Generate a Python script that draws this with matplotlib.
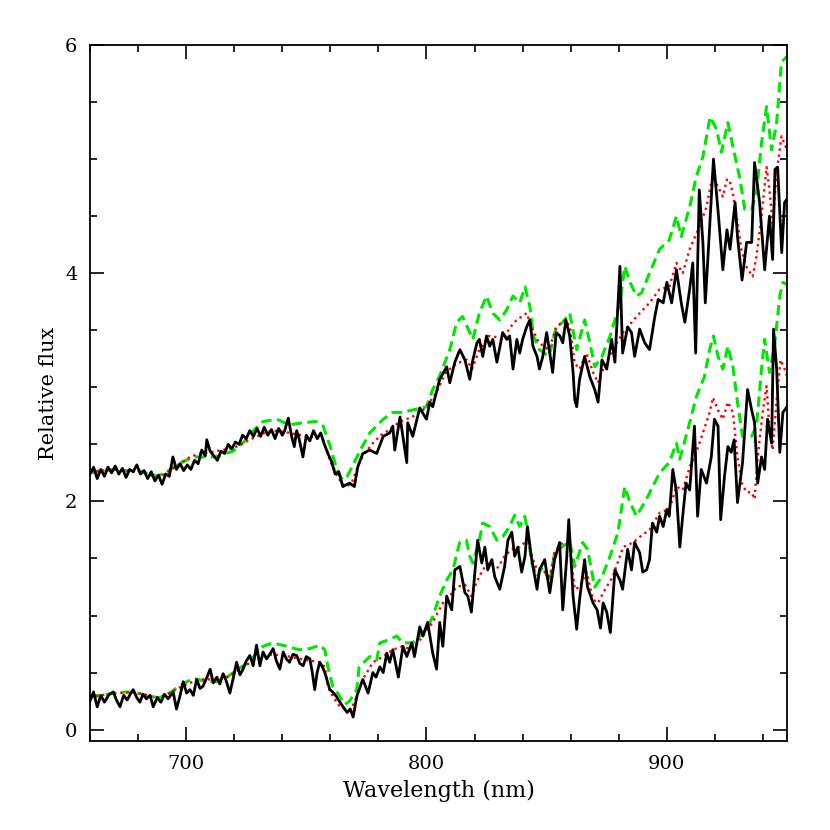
import numpy as np
import matplotlib
matplotlib.use('Agg')
import matplotlib.pyplot as plt
from matplotlib.ticker import MultipleLocator

# (wavelength nm, relative flux)
# upper spectrum: observed (black), model A (red dotted), model B (green dashed)
upper_obs = [
    (660, 2.24), (661.5, 2.30), (663, 2.20), (664.5, 2.28), (666, 2.22), (667.5, 2.30),
    (669, 2.25), (670.5, 2.31), (672, 2.24), (673.5, 2.29), (675, 2.21), (676.5, 2.28),
    (678, 2.26), (679.5, 2.32), (681, 2.24), (682.5, 2.27), (684, 2.20), (685.5, 2.26),
    (687, 2.18), (688.5, 2.23), (690, 2.15), (691.5, 2.24), (693, 2.22), (694.5, 2.39),
    (696, 2.28), (697.5, 2.33), (699, 2.27), (700.5, 2.32), (702, 2.28), (703.5, 2.36),
    (705, 2.33), (706.5, 2.45), (708, 2.40), (708.6, 2.54), (710, 2.44), (711.5, 2.40),
    (713, 2.36), (714.5, 2.44), (716, 2.42), (717.5, 2.50), (719, 2.46), (720.5, 2.52),
    (722, 2.50), (723.5, 2.58), (725, 2.55), (726.5, 2.62), (728, 2.57), (729.5, 2.64),
    (731, 2.57), (732.5, 2.65), (734, 2.58), (735.5, 2.63), (737, 2.55), (738.5, 2.64),
    (740, 2.58), (741, 2.62), (742.5, 2.73), (744, 2.56), (745, 2.48), (746, 2.62),
    (747, 2.55), (748.6, 2.39), (750, 2.58), (751.5, 2.53), (753, 2.62), (754.5, 2.55),
    (756, 2.60), (757.5, 2.50), (759, 2.42), (760.5, 2.35), (762, 2.24), (763.5, 2.26),
    (765.2, 2.13), (768, 2.16), (770, 2.13), (771.4, 2.30), (773.5, 2.42), (776.4, 2.45),
    (779.3, 2.42), (782, 2.57), (784.7, 2.60), (786, 2.66), (786.8, 2.45), (789, 2.74),
    (791.8, 2.34), (792.2, 2.69), (794.3, 2.57), (797.2, 2.82), (800, 2.72), (801.4, 2.87),
    (802.6, 2.83), (805.5, 3.07), (808.4, 3.18), (809.7, 3.04), (811.8, 3.22), (813.9, 3.33),
    (816, 3.24), (818, 3.07), (819.3, 3.24), (821, 3.39), (822, 3.42), (823.4, 3.27),
    (825, 3.45), (826.3, 3.36), (827.6, 3.42), (829.3, 3.22), (831.7, 3.48), (833.4, 3.42),
    (834.6, 3.45), (836, 3.16), (837.6, 3.42), (838.8, 3.30), (840, 3.42), (841.7, 3.53),
    (843, 3.59), (844.3, 3.36), (846, 3.27), (847, 3.16), (848.4, 3.27), (850, 3.48),
    (852.5, 3.13), (854, 3.48), (855.5, 3.45), (856.7, 3.39), (858, 3.59), (859.6, 3.45),
    (861, 3.13), (861.7, 2.89), (862.5, 2.83), (863.7, 3.07), (865.8, 3.27), (868, 3.09),
    (870, 2.98), (871.4, 2.87), (873, 3.24), (875, 3.16), (877, 3.42), (878.4, 3.22),
    (880.5, 4.06), (881.6, 3.30), (883.7, 3.53), (885.3, 3.48), (886.6, 3.27), (888.7, 3.51),
    (890.8, 3.39), (892.8, 3.33), (895, 3.62), (896.4, 3.77), (898.5, 3.74), (900, 3.92),
    (902, 3.74), (904, 4.03), (906, 3.74), (907.5, 3.57), (909.5, 3.86), (910.8, 4.09),
    (912, 3.30), (913.5, 4.73), (915, 4.27), (916, 3.74), (917.3, 4.21), (919.4, 5.00),
    (921.5, 4.50), (923.3, 4.03), (925, 4.38), (926.3, 4.21), (928.4, 4.62), (929.4, 4.32),
    (931.3, 3.94), (933.2, 4.27), (935.3, 4.27), (936.5, 4.97), (938.6, 4.62), (940.7, 4.03),
    (942.7, 4.50), (944, 4.12), (945, 4.91), (946.1, 4.93), (947.8, 4.18), (949, 4.62),
    (950, 4.65),
]

upper_red = [
    (660, 2.26), (665, 2.27), (670, 2.28), (675, 2.27), (680, 2.26), (685, 2.23),
    (688, 2.21), (692, 2.25), (696, 2.31), (701.6, 2.39), (706, 2.42), (710, 2.43),
    (715, 2.45), (720, 2.47), (726.5, 2.54), (733.6, 2.61), (738, 2.62), (743, 2.60),
    (748, 2.58), (754, 2.56), (757, 2.54), (760, 2.35), (763, 2.22), (765, 2.15),
    (767, 2.13), (769, 2.17), (771, 2.28), (772, 2.34), (775, 2.44), (777.7, 2.51),
    (781, 2.58), (784.7, 2.63), (789, 2.70), (794, 2.74), (798.5, 2.80), (801, 2.86),
    (804, 2.95), (808, 3.13), (812.6, 3.21), (816.8, 3.24), (819, 3.16), (822, 3.33),
    (826, 3.45), (829, 3.44), (832, 3.42), (834.6, 3.52), (837.5, 3.59), (841.7, 3.65),
    (843, 3.57), (846, 3.42), (848.5, 3.36), (851, 3.33), (854, 3.53), (858, 3.59),
    (859.6, 3.53), (861.7, 3.21), (863.7, 3.16), (866.6, 3.30), (869.3, 3.13), (871.4, 3.04),
    (873.5, 3.16), (877.5, 3.33), (881.8, 3.48), (887.4, 3.62), (892.8, 3.74), (897, 3.86),
    (901, 3.88), (904, 4.09), (906.6, 4.00), (909.5, 4.21), (913.6, 4.41), (916.5, 4.58),
    (919, 4.85), (922, 4.73), (923.3, 4.67), (925, 4.82), (926, 4.82), (927.5, 4.70),
    (929, 4.50), (931, 4.21), (933, 4.06), (935.7, 3.97), (937.3, 4.15), (939.4, 4.50),
    (941.5, 4.93), (942.7, 4.73), (944, 4.44), (945.7, 4.88), (947.7, 5.20), (950, 5.08),
]

upper_green = [
    (660, 2.25), (665, 2.27), (670, 2.28), (675, 2.27), (680, 2.27), (685, 2.24),
    (688, 2.22), (692, 2.26), (696, 2.32), (703, 2.39), (712, 2.39), (719.5, 2.44),
    (724, 2.52), (728, 2.62), (732, 2.70), (737.8, 2.72), (743, 2.67), (748.6, 2.69),
    (754, 2.70), (757, 2.66), (760, 2.48), (762.7, 2.28), (765, 2.19), (767, 2.22),
    (768.5, 2.28), (772.5, 2.45), (776.4, 2.60), (782, 2.72), (786, 2.78), (790, 2.78),
    (794, 2.80), (800, 2.83), (802.6, 2.98), (805.5, 3.10), (809.7, 3.33), (812.6, 3.57),
    (815, 3.62), (818, 3.48), (819.3, 3.42), (822, 3.65), (825, 3.80), (827.6, 3.65),
    (830.5, 3.59), (833.4, 3.68), (836, 3.80), (838.8, 3.74), (841, 3.88), (843, 3.71),
    (844.5, 3.45), (847, 3.33), (851, 3.27), (854, 3.53), (856.7, 3.57), (859.6, 3.65),
    (862.5, 3.33), (865.8, 3.59), (868, 3.39), (870, 3.18), (873, 3.27), (876.4, 3.45),
    (880.5, 3.74), (882.5, 4.06), (884.7, 3.92), (887.4, 3.80), (889.5, 3.83), (892.8, 4.00),
    (897, 4.21), (901, 4.29), (904, 4.50), (906, 4.32), (909.5, 4.58), (912.3, 4.85),
    (915, 5.02), (918, 5.37), (920.7, 5.26), (922.7, 5.06), (925.4, 5.32), (927.5, 5.11),
    (930.5, 4.82), (932.4, 4.56), (935.3, 4.56), (937.3, 4.71), (939.4, 5.14), (941.5, 5.46),
    (943.6, 5.08), (945.7, 5.32), (947.7, 5.85), (950, 5.90),
]

# lower spectrum
lower_obs = [
    (660, 0.25), (661.5, 0.33), (663, 0.20), (664.5, 0.30), (666, 0.24), (668, 0.31),
    (669.7, 0.33), (671, 0.26), (672.5, 0.20), (674, 0.30), (675.5, 0.26), (677, 0.32),
    (678, 0.35), (679.5, 0.28), (680.8, 0.24), (682, 0.31), (683.5, 0.27), (685, 0.30),
    (686.3, 0.20), (688, 0.28), (689.5, 0.24), (691, 0.31), (692.5, 0.27), (694.6, 0.33),
    (696, 0.18), (697.5, 0.30), (698.8, 0.42), (700.2, 0.32), (701.6, 0.35), (703, 0.30),
    (704.4, 0.44), (705.8, 0.36), (707, 0.38), (708.5, 0.45), (710, 0.53), (711.3, 0.41),
    (712.8, 0.46), (714, 0.40), (715.4, 0.49), (716.8, 0.42), (718.2, 0.32), (719.6, 0.45),
    (721, 0.59), (722.4, 0.48), (723.7, 0.53), (725, 0.60), (726.5, 0.65), (727.9, 0.56),
    (729.3, 0.74), (730.7, 0.56), (732, 0.68), (733.5, 0.62), (734.8, 0.66), (736.2, 0.71),
    (737.6, 0.60), (739, 0.53), (740.4, 0.68), (741.7, 0.62), (743, 0.59), (744.5, 0.66),
    (746, 0.65), (747.3, 0.58), (748.7, 0.56), (750, 0.64), (751.5, 0.62), (752.5, 0.50),
    (753.5, 0.35), (754.5, 0.50), (755.6, 0.59), (756.7, 0.55), (757.7, 0.50), (758.8, 0.42),
    (759.8, 0.35), (761, 0.33), (762.5, 0.29), (764, 0.24), (765.3, 0.20), (767, 0.15),
    (768.3, 0.18), (769.5, 0.11), (771, 0.29), (773.5, 0.44), (775.7, 0.32), (777.7, 0.50),
    (779, 0.46), (780.6, 0.55), (782, 0.50), (783.5, 0.67), (784.7, 0.59), (786, 0.70),
    (788.3, 0.46), (790.2, 0.73), (791.8, 0.64), (793.9, 0.76), (795, 0.64), (797.2, 0.90),
    (798.5, 0.82), (800.5, 0.94), (802.6, 0.67), (804.2, 0.53), (805.5, 0.94), (806.8, 0.73),
    (808.4, 1.17), (810.5, 1.05), (811.8, 1.40), (813.9, 1.43), (816, 1.20), (817.2, 1.17),
    (818.7, 1.03), (820, 1.34), (821.3, 1.66), (823, 1.46), (824.3, 1.60), (825.5, 1.40),
    (827.2, 1.49), (828.4, 1.34), (830.5, 1.23), (832.5, 1.43), (833.9, 1.66), (835.5, 1.73),
    (836.7, 1.52), (838, 1.60), (839.6, 1.38), (841, 1.52), (842, 1.78), (843.8, 1.49),
    (846, 1.23), (847, 1.40), (849.2, 1.49), (851.3, 1.20), (853.3, 1.49), (855.4, 1.64),
    (856.7, 1.05), (858.3, 1.49), (859.2, 1.84), (861, 1.17), (862.5, 0.88), (863.7, 1.14),
    (865.8, 1.49), (867, 1.25), (869.3, 1.11), (871, 1.05), (872.4, 0.89), (873.5, 1.11),
    (875, 1.03), (876.5, 0.85), (878.4, 1.40), (880.5, 1.31), (881.6, 1.23), (883.7, 1.58),
    (885.3, 1.40), (886.6, 1.64), (888.7, 1.55), (890, 1.38), (891.6, 1.40), (892.8, 1.49),
    (894, 1.81), (895.8, 1.73), (897, 1.87), (898.5, 1.78), (900, 1.93), (901, 1.87),
    (902.5, 2.28), (904, 2.08), (905.4, 1.60), (906.6, 1.87), (908, 2.16), (909.5, 2.10),
    (911.5, 2.66), (912.8, 1.87), (914.3, 2.28), (916.5, 2.16), (918.5, 2.39), (919.8, 2.72),
    (921.3, 2.66), (922.4, 1.84), (924, 2.22), (925.4, 2.48), (926.8, 2.43), (928, 2.54),
    (929.4, 1.99), (931.5, 2.34), (933.6, 2.98), (935.3, 2.80), (936.5, 2.69), (937.8, 2.16),
    (939.4, 2.39), (940.7, 2.28), (941.9, 2.72), (943.6, 2.51), (944.4, 3.51), (945.7, 3.16),
    (947, 2.43), (948.3, 2.78), (950, 2.83),
]

lower_red = [
    (660, 0.28), (664, 0.30), (668.3, 0.31), (672, 0.32), (676.6, 0.33), (682, 0.31),
    (688, 0.28), (693, 0.32), (697.4, 0.37), (701.6, 0.41), (707, 0.44), (712.8, 0.44),
    (717, 0.46), (721, 0.51), (725.3, 0.57), (730.7, 0.63), (736, 0.66), (743, 0.64),
    (750, 0.61), (755.6, 0.59), (757.7, 0.55), (759, 0.38), (761, 0.29), (764, 0.20),
    (766, 0.18), (768.7, 0.18), (771, 0.29), (773.5, 0.44), (777.7, 0.59), (781.8, 0.64),
    (786, 0.70), (790, 0.73), (794.3, 0.70), (798.5, 0.82), (802.6, 0.94), (806.8, 1.11),
    (809.7, 1.17), (812.5, 1.25), (816, 1.27), (818.7, 1.17), (820.8, 1.29), (823.4, 1.40),
    (826.3, 1.47), (829.7, 1.42), (832.5, 1.52), (835.5, 1.58), (838.8, 1.60), (840.9, 1.64),
    (842, 1.68), (843.8, 1.52), (846, 1.40), (848.4, 1.40), (851.3, 1.34), (853.3, 1.56),
    (856.7, 1.64), (859.6, 1.60), (861.7, 1.23), (863.7, 1.25), (866.6, 1.38), (869.3, 1.14),
    (871.4, 1.11), (873.5, 1.20), (877.5, 1.34), (881.8, 1.60), (886, 1.64), (888.8, 1.69),
    (892.8, 1.75), (897, 1.90), (901, 1.93), (904, 2.13), (906.6, 2.10), (909.5, 2.30),
    (912.3, 2.43), (915, 2.60), (917.8, 2.78), (919.2, 2.91), (921.3, 2.80), (923.3, 2.72),
    (925.4, 2.87), (927.5, 2.78), (929.4, 2.39), (931.2, 2.16), (933.2, 2.08), (935.3, 2.08),
    (936.5, 2.02), (937.8, 2.39), (940, 2.80), (941.5, 3.01), (942.7, 2.63), (944, 2.45),
    (945.7, 2.89), (947.3, 3.24), (949, 3.16), (950, 3.10),
]

lower_green = [
    (660, 0.29), (665, 0.30), (670, 0.32), (675, 0.33), (680, 0.32), (685, 0.29),
    (689, 0.28), (693, 0.32), (697, 0.38), (702.9, 0.45), (708.6, 0.42), (712.7, 0.42),
    (717, 0.46), (721, 0.52), (726.5, 0.60), (732, 0.73), (736, 0.76), (742, 0.73),
    (747, 0.70), (751.5, 0.71), (755.6, 0.74), (757.7, 0.70), (759, 0.55), (761, 0.38),
    (764, 0.29), (766, 0.22), (768, 0.25), (771, 0.35), (772, 0.55), (776.4, 0.64),
    (779.3, 0.61), (780.6, 0.76), (784.7, 0.79), (787.6, 0.82), (790.2, 0.76), (794.3, 0.76),
    (797.2, 0.82), (800, 0.88), (802.6, 0.99), (805.5, 1.17), (808.4, 1.31), (811, 1.40),
    (813.8, 1.64), (816.6, 1.66), (818, 1.52), (819.3, 1.46), (822, 1.66), (823.4, 1.81),
    (826.3, 1.78), (829.3, 1.66), (831.7, 1.69), (834.6, 1.78), (836.7, 1.88), (838.8, 1.78),
    (840.9, 1.87), (842, 1.73), (843.8, 1.46), (846, 1.34), (848.4, 1.43), (851.3, 1.29),
    (853.3, 1.55), (856.3, 1.60), (859.6, 1.65), (861.7, 1.43), (865, 1.64), (867, 1.58),
    (870, 1.25), (873, 1.34), (876.4, 1.52), (879.7, 1.73), (882.5, 2.13), (884.7, 1.99),
    (887.4, 1.87), (892, 2.04), (897, 2.25), (901, 2.34), (904, 2.51), (905.4, 2.37),
    (909.5, 2.69), (912.3, 2.92), (915.6, 3.09), (917.8, 3.33), (919.4, 3.45), (921.3, 3.27),
    (923.3, 3.16), (925.4, 3.36), (927.5, 3.18), (929.4, 2.87), (931.5, 2.57), (935.3, 2.57),
    (937.3, 2.66), (939.4, 3.16), (940.7, 3.42), (942.7, 3.13), (944.8, 3.36), (947, 3.80),
    (948.3, 3.92), (950, 3.90),
]

plt.rcParams['font.family'] = ['DejaVu Serif']

fig = plt.figure(figsize=(8.3, 8.3), dpi=100)
ax = fig.add_axes([0.1084, 0.1072, 0.8398, 0.8386])

# draw models first, observed on top
for spec in (upper_green, lower_green):
    wl, fl = np.array(spec).T
    ax.plot(wl, fl, color='#00e600', lw=2.2, dashes=(3.4, 1.8))
for spec in (upper_red, lower_red):
    wl, fl = np.array(spec).T
    ax.plot(wl, fl, color='#ff0000', lw=1.7, dashes=(1, 1.6))
for spec in (upper_obs, lower_obs):
    wl, fl = np.array(spec).T
    ax.plot(wl, fl, color='black', lw=2.0, solid_joinstyle='round')

ax.set_xlim(660, 950)
ax.set_ylim(-0.1, 6)
ax.xaxis.set_major_locator(MultipleLocator(100))
ax.xaxis.set_minor_locator(MultipleLocator(20))
ax.yaxis.set_major_locator(MultipleLocator(2))
ax.yaxis.set_minor_locator(MultipleLocator(0.5))
ax.tick_params(which='both', direction='in', top=True, right=True, width=1.2, labelsize=14)
ax.tick_params(which='major', length=10)
ax.tick_params(which='minor', length=5)
ax.tick_params(axis='x', pad=10)
ax.tick_params(axis='y', pad=9)
for sp in ax.spines.values():
    sp.set_linewidth(1.3)

ax.set_xlabel('Wavelength (nm)', fontsize=16, labelpad=5)
ax.set_ylabel('Relative flux', fontsize=15, labelpad=5)

plt.savefig('out.png', dpi=100)
plt.close()
